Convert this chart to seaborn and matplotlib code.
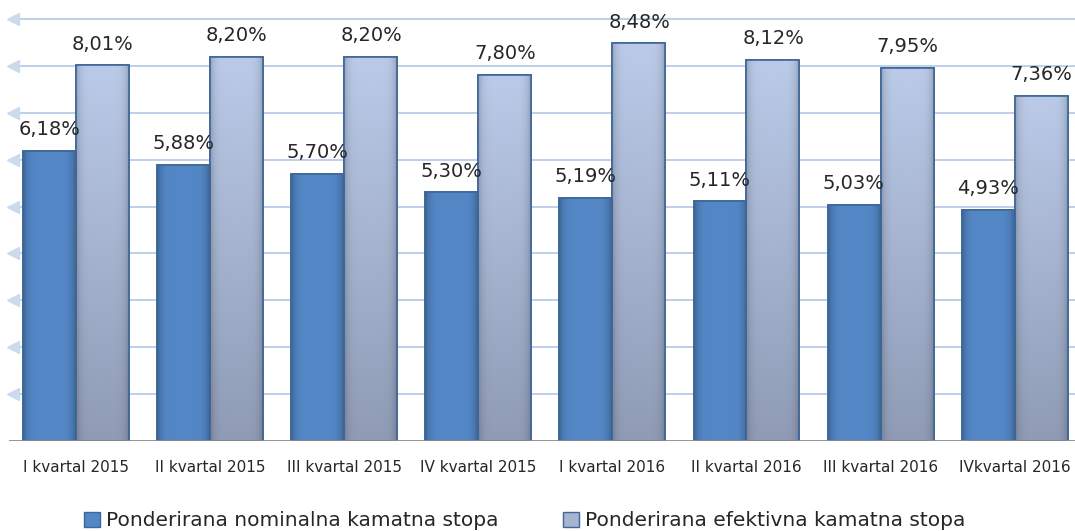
import numpy as np
import pandas as pd
import seaborn as sns
import matplotlib.pyplot as plt
from matplotlib.patches import Patch
import matplotlib.transforms as mtransforms

categories = ["I kvartal 2015", "II kvartal 2015", "III kvartal 2015", "IV kvartal 2015",
              "I kvartal 2016", "II kvartal 2016", "III kvartal 2016", "IVkvartal 2016"]
nominal = [6.18, 5.88, 5.70, 5.30, 5.19, 5.11, 5.03, 4.93]
effective = [8.01, 8.20, 8.20, 7.80, 8.48, 8.12, 7.95, 7.36]
series_names = ["Ponderirana nominalna kamatna stopa", "Ponderirana efektivna kamatna stopa"]

df = pd.DataFrame({
    "kvartal": categories * 2,
    "stopa": nominal + effective,
    "serija": [series_names[0]] * len(categories) + [series_names[1]] * len(categories),
})

sns.set_style("white")
plt.rcParams['font.family'] = ['DejaVu Sans']

fig = plt.figure(figsize=(10.75, 5.31), dpi=100)
ax = fig.add_axes([9 / 1075, 90 / 531, 1066 / 1075, 422 / 531])

blue = "#5387C6"
light = "#B3C3E2"
sns.barplot(data=df, x="kvartal", y="stopa", hue="serija", hue_order=series_names,
            palette=[blue, light], width=0.79, edgecolor="#3D6799", linewidth=1.2,
            legend=False, ax=ax)

ax.set_xlim(-0.5, 7.45)
ax.set_ylim(0, 9)

# gradient fill for the bars (beveled excel look)
n_cat = len(categories)
for i, bar in enumerate(ax.patches[:2 * n_cat]):
    x0, y0 = bar.get_x(), bar.get_y()
    w, h = bar.get_width(), bar.get_height()
    if i < n_cat:
        col = np.linspace(0, 1, 50)
        shade = 1 - 0.25 * (np.abs(col - 0.5) * 2) ** 6
        c0 = np.array([0x53, 0x87, 0xC6]) / 255
        img = (shade[None, :, None] * c0[None, None, :])
        img = np.repeat(img, 2, axis=0)
    else:
        t = np.linspace(0, 1, 60)[:, None]
        top = np.array([0xBA, 0xCA, 0xE8]) / 255
        bot = np.array([0x90, 0x9C, 0xB6]) / 255
        img = top * (1 - t) + bot * t
        img = img[:, None, :]
        col = np.linspace(0, 1, 40)
        shade = 1 - 0.18 * (np.abs(col - 0.5) * 2) ** 6
        img = img * shade[None, :, None]
    im = ax.imshow(img, extent=[x0, x0 + w, y0, y0 + h], aspect="auto",
                   origin="upper", zorder=bar.get_zorder() + 0.1, interpolation="bilinear")
    im.set_clip_path(bar)
    edge = plt.Rectangle((x0, y0), w, h, fill=False, edgecolor="#3D6799",
                         linewidth=1.2, zorder=bar.get_zorder() + 0.2)
    ax.add_patch(edge)

# value labels
for i in range(n_cat):
    for j, vals in enumerate([nominal, effective]):
        xpos = i + (-0.2 if j == 0 else 0.2)
        ax.annotate(f"{vals[i]:.2f}%".replace(".", ","), (xpos, vals[i]),
                    xytext=(0, 8.5), textcoords="offset points",
                    ha="center", va="bottom", fontsize=14, color="#262626")

# gridlines with little arrow heads on the left wall
for yv in range(1, 10):
    ax.axhline(yv, color="#B9CDE8", linewidth=1.3, zorder=0, clip_on=False)
trans = mtransforms.blended_transform_factory(ax.transAxes, ax.transData)
ax.plot([0.004] * 9, list(range(1, 10)), marker="<", markersize=9, linestyle="none",
        color="#CCDAEE", transform=trans, clip_on=False, zorder=0)
ax.axhline(0, color="#8C8C8C", linewidth=1.3, zorder=5)

ax.set_yticks([])
ax.set_xlabel("")
ax.set_ylabel("")
ax.tick_params(axis="x", length=0, pad=14, labelsize=11, labelcolor="#262626")
for s in ax.spines.values():
    s.set_visible(False)

handles = [Patch(facecolor=blue, edgecolor="#3D6799"), Patch(facecolor="#A6B4D0", edgecolor="#3D6799")]
fig.legend(handles, series_names, loc="center", bbox_to_anchor=(0.488, 10 / 531), ncol=2,
           frameon=False, fontsize=14.5, handlelength=0.8, handleheight=0.8,
           handletextpad=0.3, columnspacing=3.2, labelcolor="#262626")

fig.savefig("out.png", dpi=100)
